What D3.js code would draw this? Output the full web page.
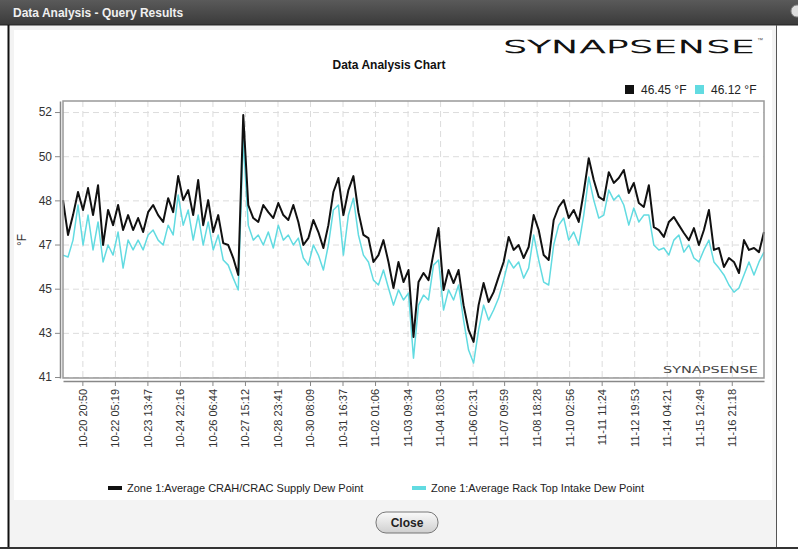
<!DOCTYPE html>
<html>
<head>
<meta charset="utf-8">
<style>
  body { margin: 0; background: #fff; }
  svg text { font-family: "Liberation Sans", Arial, sans-serif; }
  .grid line { stroke: #dcdcdc; stroke-dasharray: 6,4; }
  .grid .domain { display: none; }
  .axis .domain { stroke: #888; stroke-width: 1.5px; }
  .axis .tick line { stroke: #888; }
  .axis .tick text { font-size: 12px; fill: #333; }
  .xaxis .tick text { font-size: 11px; }
</style>
</head>
<body>
<script src="https://cdn.jsdelivr.net/npm/d3@7"></script>
<script>
// readings every 5 hours, starting 10-20 01:30
var startTime = "2012-10-20 01:30";
var stepHours = 5;

// Zone 1: Average CRAH/CRAC Supply Dew Point (black)
var supply = [
  48.31,46.89,47.70,48.64,47.91,48.80,47.70,48.92,46.48,47.91,
  47.29,48.11,47.09,47.70,47.09,47.58,47.01,47.82,48.11,47.70,
  47.42,48.39,47.82,49.29,48.31,48.72,47.70,49.13,47.29,48.31,
  47.01,47.70,46.56,46.48,45.95,45.26,51.78,48.11,47.58,47.42,
  48.11,47.82,47.58,48.19,47.70,47.50,48.11,47.42,46.48,46.76,
  47.50,47.01,46.36,47.29,48.64,49.21,47.70,48.72,49.29,47.82,
  46.89,46.76,45.79,46.07,46.68,45.79,44.73,45.79,44.97,45.46,
  42.73,44.97,45.34,45.05,46.15,47.17,44.65,45.46,44.93,45.46,
  44.03,43.02,42.53,44.03,44.93,44.16,44.56,45.18,45.79,46.81,
  46.28,46.48,45.95,46.40,47.70,47.09,46.07,45.87,47.50,48.03,
  48.31,47.58,47.91,47.42,48.64,50.02,49.13,48.44,48.31,49.45,
  49.01,49.21,49.54,48.60,49.01,48.19,48.03,48.92,47.21,47.09,
  46.81,47.42,47.62,47.29,46.97,46.68,47.17,46.48,47.09,47.91,
  46.28,46.36,45.58,45.95,45.79,45.34,46.68,46.28,46.36,46.19,
  47.01
];

// Zone 1: Average Rack Top Intake Dew Point (cyan)
var intake = [
  46.07,45.99,46.68,48.11,46.48,47.70,46.28,47.42,45.79,46.48,
  46.07,47.01,45.54,46.68,46.28,46.68,46.28,46.89,47.09,46.68,
  46.48,47.29,46.89,48.52,47.29,47.91,46.68,47.70,46.48,47.42,
  46.28,46.89,45.87,45.66,45.13,44.65,50.76,47.29,46.68,46.89,
  46.48,47.01,46.36,47.29,46.68,46.89,46.48,46.76,45.95,45.66,
  46.48,46.07,45.46,46.48,47.91,48.11,46.07,47.70,48.39,46.89,
  46.07,45.79,45.05,44.85,45.46,44.73,44.03,44.65,44.24,44.52,
  41.87,44.03,44.44,44.24,45.66,45.87,43.83,44.65,44.24,44.85,
  43.42,42.20,41.67,43.02,44.03,43.42,43.83,44.32,45.05,45.87,
  45.54,45.79,45.13,45.54,46.89,45.87,44.97,44.85,46.48,47.29,
  47.58,46.68,47.01,46.48,47.70,49.25,48.31,47.58,47.70,48.72,
  48.31,48.52,48.11,47.29,47.99,47.42,47.70,47.70,46.48,46.28,
  46.36,46.07,46.68,46.89,46.19,46.48,45.95,45.79,46.28,46.68,
  45.79,45.54,45.26,44.85,44.56,44.73,45.26,45.79,45.26,45.79,
  46.19
];

var xTickLabels = [
  "10-20 20:50","10-22 05:19","10-23 13:47","10-24 22:16","10-26 06:44",
  "10-27 15:12","10-28 23:41","10-30 08:09","10-31 16:37","11-02 01:06",
  "11-03 09:34","11-04 18:03","11-06 02:31","11-07 09:59","11-08 18:28",
  "11-10 02:56","11-11 11:24","11-12 19:53","11-14 04:21","11-15 12:49",
  "11-16 21:18"
];
var yTickValues = [41.1, 42.9, 44.7, 46.5, 48.3, 50.1, 51.9];
var yTickLabels = ["41", "43", "45", "47", "48", "50", "52"];

var seriesNames = ["Zone 1:Average CRAH/CRAC Supply Dew Point", "Zone 1:Average Rack Top Intake Dew Point"];
var currentValues = ["46.45 °F", "46.12 °F"];
var colors = ["#111111", "#62dbe1"];

var W = 798, H = 556;
var svg = d3.select("body").append("svg").attr("width", W).attr("height", H);

// ---- dialog chrome ----
var defs = svg.append("defs");
var grad = defs.append("linearGradient")
    .attr("id", "tbar").attr("x1", 0).attr("y1", 0).attr("x2", 0).attr("y2", 1);
grad.append("stop").attr("offset", "0%").attr("stop-color", "#5a5a5a");
grad.append("stop").attr("offset", "100%").attr("stop-color", "#3a3a3a");
var bgrad = defs.append("linearGradient")
    .attr("id", "btn").attr("x1", 0).attr("y1", 0).attr("x2", 0).attr("y2", 1);
bgrad.append("stop").attr("offset", "0%").attr("stop-color", "#fafafa");
bgrad.append("stop").attr("offset", "100%").attr("stop-color", "#cfcfcf");

svg.append("rect").attr("x", 0).attr("y", 0).attr("width", W).attr("height", 25).attr("fill", "url(#tbar)");
svg.append("line").attr("x1", 0).attr("x2", W).attr("y1", 25).attr("y2", 25).attr("stroke", "#222");
svg.append("text").attr("x", 13).attr("y", 17).text("Data Analysis - Query Results")
    .style("font-size", "12px").style("font-weight", "bold").style("fill", "#f0f0f0");
svg.append("circle").attr("cx", 797).attr("cy", 11).attr("r", 6).attr("fill", "#ddd").attr("stroke", "#888");

svg.append("rect").attr("x", 8).attr("y", 26).attr("width", 769).attr("height", 521).attr("fill", "#f3f3f3");
svg.append("line").attr("x1", 8.5).attr("x2", 8.5).attr("y1", 25).attr("y2", 548).attr("stroke", "#111").attr("stroke-width", 2);
svg.append("line").attr("x1", 776.5).attr("x2", 776.5).attr("y1", 25).attr("y2", 548).attr("stroke", "#555");
svg.append("rect").attr("x", 14).attr("y", 30).attr("width", 758).attr("height", 470).attr("fill", "#fff");
svg.append("line").attr("x1", 0).attr("x2", W).attr("y1", 548).attr("y2", 548).attr("stroke", "#333").attr("stroke-width", 2);

svg.append("rect").attr("x", 376).attr("y", 512).attr("width", 62).attr("height", 21).attr("rx", 10)
    .attr("fill", "url(#btn)").attr("stroke", "#777");
svg.append("text").attr("x", 407).attr("y", 527).attr("text-anchor", "middle").text("Close")
    .style("font-size", "12px").style("font-weight", "bold").style("fill", "#222");

// ---- chart header ----
svg.append("text").attr("x", 389).attr("y", 69).attr("text-anchor", "middle").text("Data Analysis Chart")
    .style("font-size", "12px").style("font-weight", "bold").style("fill", "#111");

svg.append("text").attr("x", 503).attr("y", 53).text("SYNAPSENSE")
    .attr("textLength", 252).attr("lengthAdjust", "spacingAndGlyphs")
    .style("font-family", "'DejaVu Sans ExtraLight', 'DejaVu Sans'").style("font-weight", "200")
    .style("font-size", "18px").style("fill", "#111").style("stroke", "#111").style("stroke-width", 0.7);
svg.append("text").attr("x", 757).attr("y", 42).text("™").style("font-size", "6px").style("fill", "#555");

// top legend with current values
var topLeg = svg.append("g").attr("transform", "translate(625,85)");
[0, 1].forEach(function (i) {
  var lg = topLeg.append("g").attr("transform", "translate(" + (i * 70) + ",0)");
  lg.append("rect").attr("width", 9).attr("height", 9).attr("fill", colors[i]);
  lg.append("text").attr("x", 16).attr("y", 8.5).text(currentValues[i])
      .style("font-size", "12px").style("fill", "#222");
});

// ---- plot ----
var plot = { left: 63, top: 101, width: 701, height: 277 };
var parseT = d3.utcParse("%Y-%m-%d %H:%M");
var t0 = parseT(startTime);
var times = supply.map(function (d, i) { return new Date(+t0 + i * stepHours * 3600e3); });
var tickTimes = xTickLabels.map(function (s) { return parseT("2012-" + s); });

var x = d3.scaleUtc().domain([times[0], times[times.length - 1]]).range([0, plot.width]);
var y = d3.scaleLinear().domain([41.06, 52.35]).range([plot.height, 0]);

var g = svg.append("g").attr("transform", "translate(" + plot.left + "," + plot.top + ")");

g.append("g").attr("class", "grid")
    .call(d3.axisLeft(y).tickValues(yTickValues).tickSize(-plot.width).tickFormat(""));
g.append("g").attr("class", "grid")
    .attr("transform", "translate(0," + plot.height + ")")
    .call(d3.axisBottom(x).tickValues(tickTimes).tickSize(plot.height).tickSizeOuter(0).tickFormat(""))
    .selectAll("line").attr("transform", "translate(0," + (-plot.height) + ")");

var line = d3.line()
    .x(function (d, i) { return x(times[i]); })
    .y(function (d) { return y(d); });

g.append("path").datum(intake).attr("d", line)
    .attr("fill", "none").attr("stroke", colors[1]).attr("stroke-width", 1.5).attr("stroke-linejoin", "round");
g.append("path").datum(supply).attr("d", line)
    .attr("fill", "none").attr("stroke", colors[0]).attr("stroke-width", 2).attr("stroke-linejoin", "round");

g.append("rect").attr("width", plot.width).attr("height", plot.height)
    .attr("fill", "none").attr("stroke", "#999").attr("stroke-width", 1.5);

g.append("text").attr("x", plot.width - 6).attr("y", plot.height - 5).attr("text-anchor", "end").text("SYNAPSENSE")
    .attr("textLength", 95).attr("lengthAdjust", "spacingAndGlyphs")
    .style("font-family", "DejaVu Sans").style("font-size", "9px").style("fill", "#444");

// y axis, offset from frame
g.append("g").attr("class", "axis")
    .attr("transform", "translate(-3,0)")
    .call(d3.axisLeft(y).tickValues(yTickValues).tickSize(5).tickSizeOuter(0)
      .tickFormat(function (d, i) { return yTickLabels[i]; }));

svg.append("text").attr("transform", "translate(26,240) rotate(-90)").attr("text-anchor", "middle")
    .text("°F").style("font-size", "12px").style("fill", "#333");

// x axis
var xa = g.append("g").attr("class", "axis xaxis")
    .attr("transform", "translate(0," + (plot.height + 3) + ")")
    .call(d3.axisBottom(x).tickValues(tickTimes).tickSize(5).tickSizeOuter(0)
      .tickFormat(d3.utcFormat("%m-%d %H:%M")));
xa.selectAll(".tick text")
    .attr("transform", "rotate(-90)")
    .attr("x", -8).attr("y", 0).attr("dy", "0.35em")
    .style("text-anchor", "end");

// bottom legend
var legX = [108, 412];
[0, 1].forEach(function (i) {
  var lg = svg.append("g").attr("transform", "translate(" + legX[i] + ",488)");
  lg.append("rect").attr("y", -2).attr("width", 14).attr("height", 4).attr("fill", colors[i]);
  lg.append("text").attr("x", 19).attr("y", 4).text(seriesNames[i])
      .style("font-size", "11px").style("fill", "#222");
});
</script>
</body>
</html>
